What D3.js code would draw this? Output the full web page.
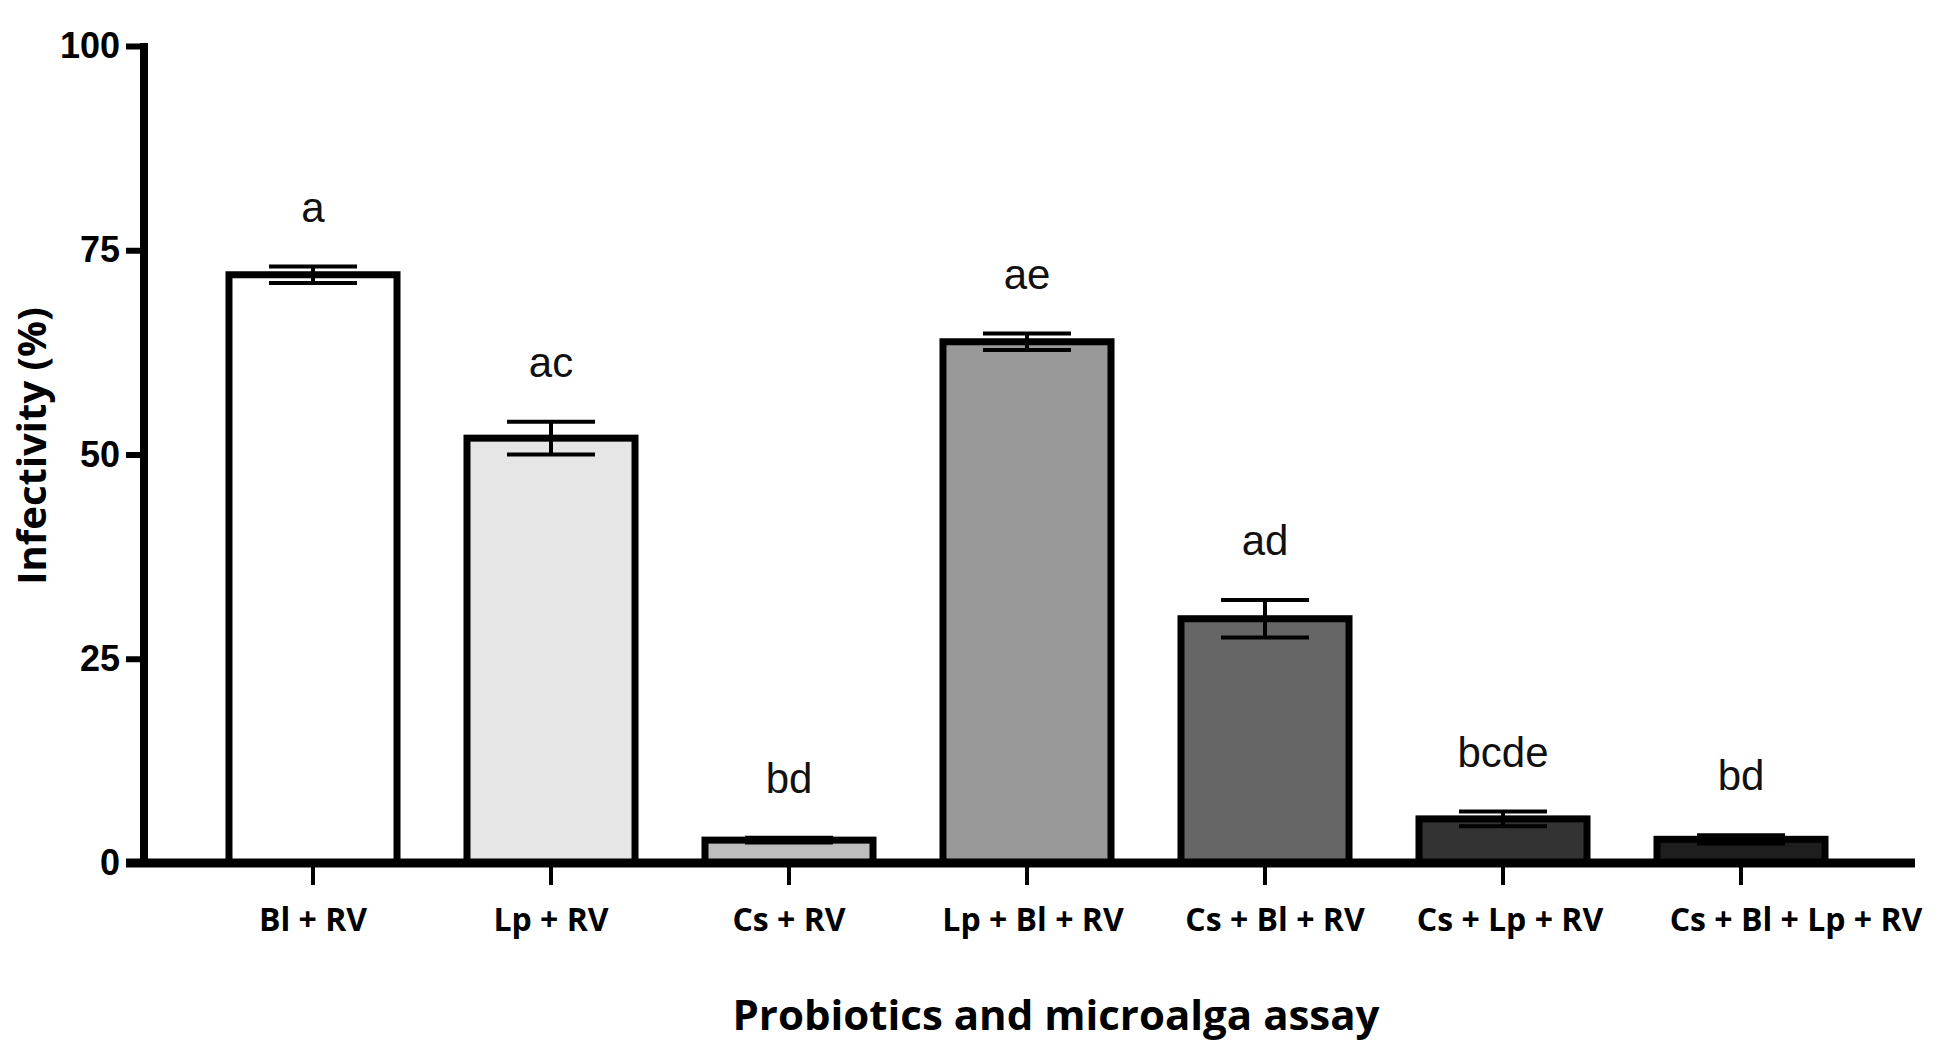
<!DOCTYPE html>
<html>
<head>
<meta charset="utf-8">
<script src="https://cdn.jsdelivr.net/npm/d3@7"></script>
<style>
  body { margin: 0; background: #fff; }
  svg { display: block; }
</style>
</head>
<body>
<div id="chart"></div>
<script>
// values
const categories = ['Bl + RV', 'Lp + RV', 'Cs + RV', 'Lp + Bl + RV', 'Cs + Bl + RV', 'Cs + Lp + RV', 'Cs + Bl + Lp + RV']
const means = [72.0, 52.0, 2.8, 63.8, 29.9, 5.4, 2.9]
const errors = [1.0, 2.0, 0.3, 1.0, 2.3, 0.9, 0.5]
const letters = ['a', 'ac', 'bd', 'ae', 'ad', 'bcde', 'bd']
const yTicks = [0, 25, 50, 75, 100]

// grey ramp of the bars
const shades = ['#ffffff', '#e6e6e6', '#bebebe', '#999999', '#666666', '#333333', '#1e1e1e']

// the long tick labels sit a bit right of their bar in the original
const tickNudge = {'Lp + Bl + RV': 6, 'Cs + Bl + RV': 10, 'Cs + Lp + RV': 7, 'Cs + Bl + Lp + RV': 55}

const W = 1950, H = 1059

const data = categories.map((c, i) => ({cat: c, mean: means[i], err: errors[i], letter: letters[i], fill: shades[i]}))

const svg = d3.select('#chart').append('svg')
  .attr('width', W)
  .attr('height', H)

const xScale = d3.scaleBand()
  .domain(categories)
  .range([194, 1860])
  .paddingInner(0.294)
  .paddingOuter(0.147)

const yScale = d3.scaleLinear()
  .domain([0, 100])
  .range([863, 46])

// bars
svg.append('g').selectAll('rect')
  .data(data)
  .join('rect')
  .attr('x', d => xScale(d.cat))
  .attr('y', d => yScale(d.mean))
  .attr('width', xScale.bandwidth())
  .attr('height', d => yScale(0) - yScale(d.mean))
  .attr('fill', d => d.fill)
  .attr('stroke', '#000')
  .attr('stroke-width', 7)

// error bars
const capW = 88
const eb = svg.append('g').attr('stroke', '#000').attr('stroke-width', 4)
data.forEach(d => {
  const cx = xScale(d.cat) + xScale.bandwidth() / 2
  const y1 = yScale(d.mean + d.err), y0 = yScale(d.mean - d.err)
  eb.append('line').attr('x1', cx).attr('x2', cx).attr('y1', y1).attr('y2', y0)
  eb.append('line').attr('x1', cx - capW / 2).attr('x2', cx + capW / 2).attr('y1', y1).attr('y2', y1)
  eb.append('line').attr('x1', cx - capW / 2).attr('x2', cx + capW / 2).attr('y1', y0).attr('y2', y0)
})

// significance letters
svg.append('g').selectAll('text')
  .data(data)
  .join('text')
  .attr('x', d => xScale(d.cat) + xScale.bandwidth() / 2)
  .attr('y', d => yScale(d.mean + d.err) - 45)
  .attr('text-anchor', 'middle')
  .attr('font-family', '"Liberation Sans", Arial, sans-serif')
  .attr('font-size', 42)
  .attr('fill', '#111')
  .text(d => d.letter)

// y axis
const yAxis = d3.axisLeft(yScale)
  .tickValues(yTicks)
  .tickSize(18)
  .tickPadding(6)

const gy = svg.append('g')
  .attr('transform', 'translate(144,0)')
  .call(yAxis)
gy.select('.domain').remove()
gy.selectAll('.tick line').attr('stroke', '#000').attr('stroke-width', 6)
gy.selectAll('.tick text')
  .attr('font-family', '"Liberation Sans", Arial, sans-serif')
  .attr('font-weight', 'bold')
  .attr('font-size', 36)
  .attr('fill', '#000')

svg.append('line')
  .attr('x1', 144).attr('x2', 144)
  .attr('y1', yScale(100) - 3).attr('y2', yScale(0) + 4)
  .attr('stroke', '#000').attr('stroke-width', 8)

// x axis
const xAxis = d3.axisBottom(xScale)
  .tickSize(22)
  .tickPadding(23)

const gx = svg.append('g')
  .attr('transform', `translate(0,${yScale(0)})`)
  .call(xAxis)
gx.select('.domain').remove()
gx.selectAll('.tick line').attr('stroke', '#000').attr('stroke-width', 4)
gx.selectAll('.tick text')
  .attr('dx', d => tickNudge[d] || 0)
  .attr('font-family', '"Open Sans", sans-serif')
  .attr('font-weight', 'bold')
  .attr('font-size', 32)
  .attr('fill', '#000')

svg.append('line')
  .attr('x1', 126).attr('x2', 1915)
  .attr('y1', yScale(0)).attr('y2', yScale(0))
  .attr('stroke', '#000').attr('stroke-width', 9)

// axis titles
svg.append('text')
  .attr('transform', 'translate(46,446) rotate(-90)')
  .attr('text-anchor', 'middle')
  .attr('font-family', '"Open Sans", sans-serif')
  .attr('font-weight', 'bold')
  .attr('font-size', 40)
  .attr('fill', '#000')
  .text('Infectivity (%)')

svg.append('text')
  .attr('x', 1056)
  .attr('y', 1030)
  .attr('text-anchor', 'middle')
  .attr('font-family', '"Open Sans", sans-serif')
  .attr('font-weight', 'bold')
  .attr('font-size', 42)
  .attr('fill', '#000')
  .text('Probiotics and microalga assay')
</script>
</body>
</html>
